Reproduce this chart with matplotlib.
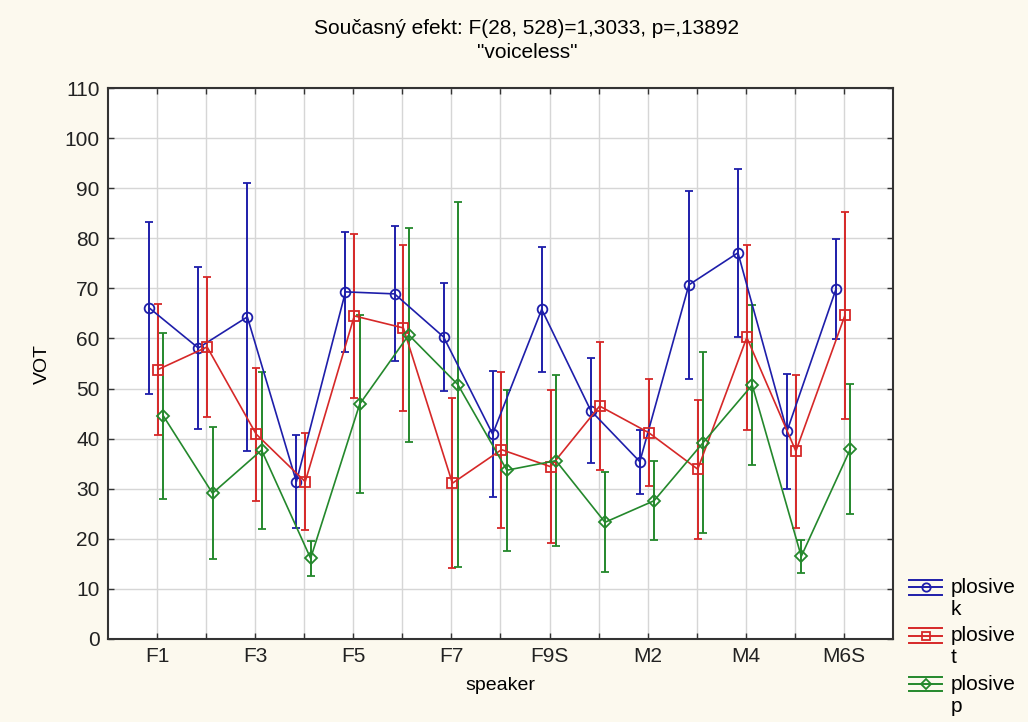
import numpy as np
import matplotlib.pyplot as plt
from matplotlib.lines import Line2D
from matplotlib.legend_handler import HandlerBase

plt.rcParams['font.family'] = ['Liberation Sans', 'DejaVu Sans']

# speakers (only every other label is printed on the axis)
speakers = ['F1', 'F2', 'F3', 'F4', 'F5', 'F6', 'F7', 'F8', 'F9S',
            'M1', 'M2', 'M3', 'M4', 'M5', 'M6S']
shown = ['F1', '', 'F3', '', 'F5', '', 'F7', '', 'F9S',
         '', 'M2', '', 'M4', '', 'M6S']

# means and confidence half-widths
k_mean = [66.1, 58.1, 64.3, 31.4, 69.3, 68.9, 60.3, 40.9, 65.8, 45.6, 35.4, 70.7, 77.1, 41.5, 69.9]
k_err = [17.2, 16.2, 26.8, 9.3, 12.0, 13.5, 10.8, 12.6, 12.5, 10.4, 6.4, 18.8, 16.8, 11.5, 10.0]
t_mean = [53.8, 58.3, 40.9, 31.4, 64.5, 62.1, 31.1, 37.8, 34.4, 46.5, 41.2, 33.9, 60.2, 37.5, 64.6]
t_err = [13.0, 13.9, 13.3, 9.7, 16.4, 16.5, 17.0, 15.6, 15.3, 12.7, 10.7, 13.9, 18.5, 15.3, 20.6]
p_mean = [44.5, 29.1, 37.7, 16.1, 46.9, 60.7, 50.8, 33.7, 35.6, 23.3, 27.6, 39.2, 50.7, 16.5, 37.9]
p_err = [16.6, 13.2, 15.7, 3.5, 17.8, 21.4, 36.4, 16.1, 17.1, 10.0, 7.9, 18.1, 16.0, 3.3, 13.0]

series = [
    ('plosive\nk', k_mean, k_err, '#1e1eaa', 'o', -0.16),
    ('plosive\nt', t_mean, t_err, '#d62828', 's', 0.02),
    ('plosive\np', p_mean, p_err, '#24882c', 'D', 0.13),
]


class ThreeBars(HandlerBase):
    # legend key: cap - line with marker - cap, level with the first text line
    def create_artists(self, legend, orig, xd, yd, w, h, fs, trans):
        col = orig.get_color()
        mid = h / 2 - yd + 0.55 * fs
        arts = []
        for dy in (-h * 0.5, 0, h * 0.5):
            ln = Line2D([-xd, -xd + w], [mid + dy, mid + dy], color=col, lw=1.4)
            ln.set_transform(trans)
            arts.append(ln)
        mk = Line2D([-xd + w / 2], [mid], marker=orig.get_marker(), ms=orig.get_markersize(),
                    mfc='none', mec=col, mew=1.3, ls='none')
        mk.set_transform(trans)
        arts.append(mk)
        return arts


fig = plt.figure(figsize=(10.28, 7.22), dpi=100, facecolor='#fcf9ee')
ax = fig.add_axes([108/1028, 1 - 639/722, (893-108)/1028, (639-88)/722])
ax.set_facecolor('white')

x = np.arange(len(speakers))
handles = []
for lab, m, e, col, mk, off in series:
    ms = 7 if mk != 'D' else 6
    ax.errorbar(x + off, m, yerr=e, color=col, marker=mk, ms=ms, mfc='none',
                mec=col, mew=1.3, lw=1.2, elinewidth=1.4, capsize=3,
                capthick=1.4)
    handles.append(Line2D([], [], color=col, marker=mk, ms=ms - 1, label=lab))

ax.set_xlim(-1, 15)
ax.set_ylim(0, 110)
ax.set_xticks(x)
ax.set_xticklabels(shown, fontsize=15)
ax.set_yticks(np.arange(0, 111, 10))
ax.tick_params(axis='y', labelsize=15)
ax.tick_params(direction='in', top=True, right=True, length=4, width=1, colors='#333333',
               labelcolor='#222222', pad=6)
ax.grid(True, color='#d6d6d6', lw=1)
ax.set_axisbelow(True)
for s in ax.spines.values():
    s.set_color('#333333')
    s.set_linewidth(1.5)

ax.set_xlabel('speaker', fontsize=14, labelpad=8)
ax.set_ylabel('VOT', fontsize=14, labelpad=10)
fig.text(527/1028, 1 - 28/722, 'Současný efekt: F(28, 528)=1,3033, p=,13892',
         fontsize=15, ha='center', va='center')
fig.text(527/1028, 1 - 53/722, '"voiceless"', fontsize=15, ha='center', va='center')

fig.legend(handles=handles, loc='upper left', bbox_to_anchor=(909/1028, 1 - 578/722),
           frameon=False, fontsize=15, handlelength=1.6, handletextpad=0.4,
           labelspacing=0.35, borderpad=0, borderaxespad=0,
           handler_map={Line2D: ThreeBars()})

fig.savefig('out.png', dpi=100, facecolor=fig.get_facecolor())
